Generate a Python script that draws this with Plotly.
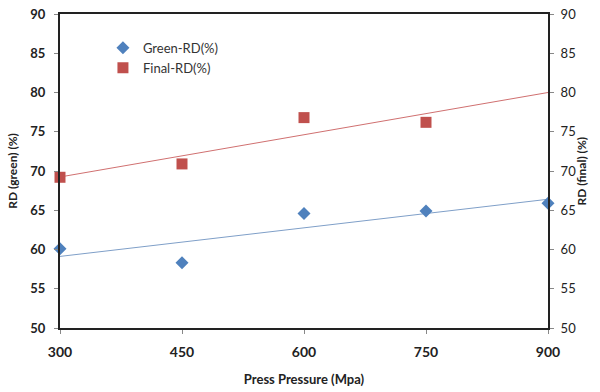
import numpy as np
import plotly.graph_objects as go

pressure_green = [300, 450, 600, 750, 900]
green_rd = [60.1, 58.3, 64.6, 64.9, 65.9]
pressure_final = [300, 450, 600, 750]
final_rd = [69.2, 70.9, 76.8, 76.2]
x_ticks = [300, 450, 600, 750, 900]
y_ticks = [50, 55, 60, 65, 70, 75, 80, 85, 90]

BLUE = "#4F81BD"
RED = "#C0504D"
FONT = "Lato, 'Open Sans', sans-serif"

# linear trendlines fitted from the data
xs = np.array([300, 900])
gb = np.polyfit(pressure_green, green_rd, 1)
fb = np.polyfit(pressure_final, final_rd, 1)

fig = go.Figure()
fig.add_trace(go.Scatter(x=xs, y=np.polyval(gb, xs), mode="lines",
                         line=dict(color="#7f9fc8", width=1), showlegend=False,
                         hoverinfo="skip", yaxis="y"))
fig.add_trace(go.Scatter(x=xs, y=np.polyval(fb, xs), mode="lines",
                         line=dict(color="#d07070", width=1), showlegend=False,
                         hoverinfo="skip", yaxis="y2"))
fig.add_trace(go.Scatter(x=pressure_green, y=green_rd, mode="markers", name="Green-RD(%)",
                         marker=dict(symbol="diamond", size=10, color=BLUE),
                         cliponaxis=False, yaxis="y"))
fig.add_trace(go.Scatter(x=pressure_final, y=final_rd, mode="markers", name="Final-RD(%)",
                         marker=dict(symbol="square", size=11, color=RED),
                         cliponaxis=False, yaxis="y2"))

axis_common = dict(showgrid=False, zeroline=False, showline=True, linecolor="#222",
                   linewidth=2, ticks="outside", ticklen=4, tickcolor="#888",
                   automargin=False)

fig.update_layout(
    width=600, height=392,
    margin=dict(l=60, r=52, t=14, b=64),
    paper_bgcolor="white", plot_bgcolor="white",
    font=dict(family=FONT, color="#222"),
    showlegend=True,
    legend=dict(x=0.088, y=0.94, xanchor="left", yanchor="top",
                bgcolor="rgba(0,0,0,0)", font=dict(size=13, family=FONT, color="#333"),
                itemwidth=30),
    xaxis=dict(range=[300, 900], tickvals=x_ticks, mirror=True,
               tickfont=dict(size=14, family=FONT, weight="bold"),
               ticklabelstandoff=6,
               title=dict(text="<b>Press Pressure (Mpa)</b>", font=dict(size=13), standoff=16),
               **axis_common),
    yaxis=dict(range=[50, 90], tickvals=y_ticks,
               tickfont=dict(size=13, family=FONT, weight="bold"),
               ticklabelstandoff=6,
               title=dict(text="<b>RD (green) (%)</b>", font=dict(size=12), standoff=10),
               **axis_common),
    yaxis2=dict(range=[50, 90], tickvals=y_ticks, overlaying="y", side="right",
                tickfont=dict(size=13, family=FONT),
                ticklabelstandoff=4,
                **axis_common),
    annotations=[dict(text="<b>RD (final) (%)</b>", textangle=-90, xref="paper", yref="paper",
                      x=1.0, xshift=42, y=0.5, showarrow=False,
                      font=dict(size=12, family=FONT, color="#222"))],
)

fig.write_html("out.html", config={"displayModeBar": False},
               post_script="document.body.style.margin='0';document.body.style.overflow='hidden';")
